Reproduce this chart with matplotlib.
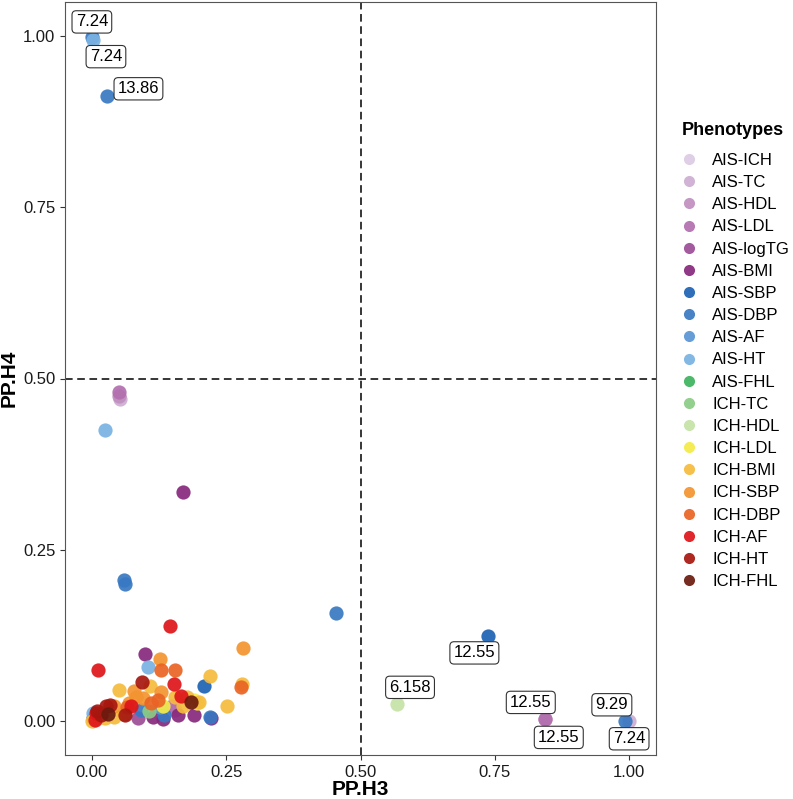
import matplotlib
matplotlib.use("Agg")
import matplotlib.pyplot as plt
from matplotlib.lines import Line2D

plt.rcParams['font.family'] = ['Liberation Sans', 'DejaVu Sans']

### phenotype names and colours ###
phenotypes = ['AIS-ICH', 'AIS-TC', 'AIS-HDL', 'AIS-LDL', 'AIS-logTG', 'AIS-BMI',
              'AIS-SBP', 'AIS-DBP', 'AIS-AF', 'AIS-HT', 'AIS-FHL',
              'ICH-TC', 'ICH-HDL', 'ICH-LDL', 'ICH-BMI', 'ICH-SBP', 'ICH-DBP',
              'ICH-AF', 'ICH-HT', 'ICH-FHL']
colors = ['#dccbe4', '#cdaed2', '#c08fbf', '#b26fae', '#9c4d96', '#87287c',
          '#1d63b3', '#3878c2', '#5a95d3', '#7ab2e2', '#3db35d',
          '#8acb84', '#c6e2a6', '#f4ea48', '#f5bb3d', '#f29430', '#ea6424',
          '#de1419', '#a6170f', '#6b1a0f']

### PP.H3 / PP.H4 per phenotype ###
h3 = {
    'AIS-ICH': [0.004],
    'AIS-TC': [0.052, 1.000],
    'AIS-HDL': [0.050, 0.154, 0.843],
    'AIS-LDL': [0.051, 0.150, 0.843],
    'AIS-logTG': [0.086, 0.060],
    'AIS-BMI': [0.170, 0.098, 0.113, 0.160, 0.191, 0.222, 0.132],
    'AIS-SBP': [0.738, 0.209, 0.003],
    'AIS-DBP': [0.000, 0.029, 0.059, 0.061, 0.454, 0.992, 0.092, 0.135, 0.220],
    'AIS-AF': [0.127, 0.008],
    'AIS-HT': [0.002, 0.024, 0.104, 0.002],
    'AIS-FHL': [0.004],
    'ICH-TC': [0.107],
    'ICH-HDL': [0.568],
    'ICH-LDL': [0.132, 0.196, 0.190],
    'ICH-BMI': [0.220, 0.109, 0.279, 0.050, 0.155, 0.178, 0.169, 0.251,
                0.042, 0.024, 0.000, 0.200, 0.015, 0.060],
    'ICH-SBP': [0.282, 0.127, 0.079, 0.082, 0.128, 0.095, 0.070, 0.042, 0.020],
    'ICH-DBP': [0.129, 0.155, 0.278, 0.123, 0.110, 0.065],
    'ICH-AF': [0.146, 0.011, 0.152, 0.165, 0.073, 0.005, 0.008],
    'ICH-HT': [0.093, 0.033, 0.061, 0.017, 0.027, 0.010],
    'ICH-FHL': [0.184, 0.030],
}
h4 = {
    'AIS-ICH': [0.006],
    'AIS-TC': [0.470, 0.000],
    'AIS-HDL': [0.475, 0.016, 0.002],
    'AIS-LDL': [0.481, 0.021, 0.002],
    'AIS-logTG': [0.004, 0.010],
    'AIS-BMI': [0.334, 0.098, 0.006, 0.009, 0.009, 0.004, 0.002],
    'AIS-SBP': [0.124, 0.051, 0.004],
    'AIS-DBP': [0.999, 0.913, 0.205, 0.200, 0.157, 0.000, 0.016, 0.009, 0.006],
    'AIS-AF': [0.020, 0.006],
    'AIS-HT': [0.995, 0.425, 0.078, 0.011],
    'AIS-FHL': [0.003],
    'ICH-TC': [0.015],
    'ICH-HDL': [0.024],
    'ICH-LDL': [0.021, 0.026, 0.030],
    'ICH-BMI': [0.065, 0.051, 0.053, 0.045, 0.035, 0.035, 0.021, 0.022,
                0.006, 0.004, 0.000, 0.028, 0.008, 0.012],
    'ICH-SBP': [0.107, 0.090, 0.043, 0.035, 0.042, 0.033, 0.026, 0.021, 0.012],
    'ICH-DBP': [0.074, 0.074, 0.049, 0.031, 0.026, 0.020],
    'ICH-AF': [0.139, 0.074, 0.053, 0.036, 0.021, 0.001, 0.012],
    'ICH-HT': [0.056, 0.023, 0.009, 0.009, 0.021, 0.014],
    'ICH-FHL': [0.028, 0.010],
}

### labelled points ###
lab_x = [0.000, 0.002, 0.029, 0.738, 0.568, 0.843, 0.843, 0.992, 1.000]
lab_y = [0.999, 0.995, 0.913, 0.124, 0.024, 0.002, 0.002, 0.000, 0.000]
lab_text = ['7.24', '7.24', '13.86', '12.55', '6.158', '12.55', '12.55', '9.29', '7.24']
lab_off = [(0, 15), (13, -17), (31, 7), (-14, -17), (13, 17), (-14, 17), (14, -18), (-13, 16), (0, -18)]

fig = plt.figure(figsize=(7.93, 7.99), dpi=100)
ax = fig.add_axes([65/793, 44/799, 591/793, 753/799])

for ph, col in zip(phenotypes, colors):
    ax.scatter(h3[ph], h4[ph], s=105, color=col, alpha=0.92, linewidths=0, zorder=3)

ax.axvline(0.5, color='black', lw=1.1, ls=(0, (5, 3)), zorder=2)
ax.axhline(0.5, color='black', lw=1.1, ls=(0, (5, 3)), zorder=2)

for x, y, t, off in zip(lab_x, lab_y, lab_text, lab_off):
    ax.annotate(t, (x, y), xytext=off, textcoords='offset pixels',
                ha='center', va='center', fontsize=12, color='black',
                annotation_clip=False, zorder=5,
                bbox=dict(boxstyle='round,pad=0.22,rounding_size=0.25', fc='white',
                          ec='#333333', lw=0.8))

ax.set_xlim(-0.05, 1.05)
ax.set_ylim(-0.05, 1.05)
ticks = [0, 0.25, 0.5, 0.75, 1.0]
ax.set_xticks(ticks)
ax.set_yticks(ticks)
ax.set_xticklabels(['0.00', '0.25', '0.50', '0.75', '1.00'])
ax.set_yticklabels(['0.00', '0.25', '0.50', '0.75', '1.00'])
ax.tick_params(length=3.5, width=0.8, color='#333333', labelsize=12, labelcolor='#1a1a1a')
for sp in ax.spines.values():
    sp.set_color('#555555')
    sp.set_linewidth(0.8)

ax.set_xlabel('PP.H3', fontsize=15, fontweight='bold', labelpad=0)
ax.set_ylabel('PP.H4', fontsize=15, fontweight='bold', labelpad=3)

handles = [Line2D([], [], marker='o', ls='', markersize=8, markeredgewidth=0,
                  color=c, alpha=0.92) for c in colors]
leg = ax.legend(handles, phenotypes, title='Phenotypes', loc='upper left',
                bbox_to_anchor=(682/793, 1 - 122/799), bbox_transform=fig.transFigure,
                frameon=False, fontsize=12, title_fontsize=13, alignment='left',
                handlelength=0.8, handletextpad=1.0, labelspacing=0.43,
                borderpad=0, borderaxespad=0)
leg.get_title().set_fontweight('bold')
leg._legend_box.sep = 10

fig.savefig('out.png', dpi=100)
